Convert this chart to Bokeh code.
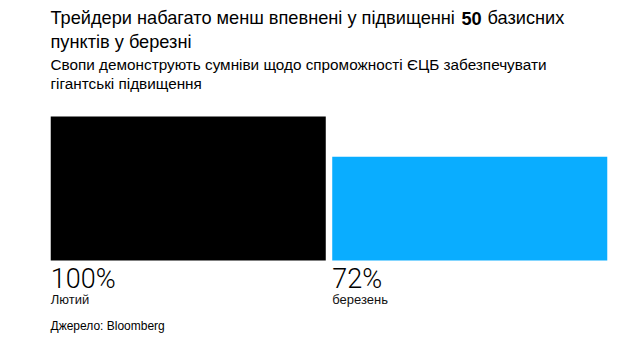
from bokeh.plotting import figure
from bokeh.models import ColumnDataSource, LabelSet, Label, Range1d
from bokeh.transform import dodge
from bokeh.embed import file_html
from bokeh.resources import INLINE
from bokeh.core.properties import value

months = ["Лютий", "березень"]
probabilities = [100, 72]
value_labels = ["100%", "72%"]
colors = ["#000000", "#0aadff"]

title_line1_a = "Трейдери набагато менш впевнені у підвищенні"
title_bold = "50"
title_line1_b = "базисних"
title_line2 = "пунктів у березні"
subtitle_lines = ["Свопи демонструють сумніви щодо спроможності ЄЦБ забезпечувати",
                  "гігантські підвищення"]
source_text = "Джерело: Bloomberg"

FONT = "Liberation Sans"
NUM_FONT = "Roboto Light, Lato Light, DejaVu Sans Light"
W, H = 640, 351

# layout of the plotting area inside the canvas (pixels)
PLOT_LEFT, PLOT_TOP, PLOT_BOTTOM = 47, 116, 260
SLOT_PX = 281.5                      # width of one category slot
VAL_PX = (PLOT_BOTTOM - PLOT_TOP) / 100.0

xpos = list(range(len(months)))
src = ColumnDataSource(dict(x=xpos, month=months, prob=probabilities,
                            label=value_labels, color=colors))

x0 = -0.5 - PLOT_LEFT / SLOT_PX
y0 = -(H - PLOT_BOTTOM) / VAL_PX
p = figure(width=W, height=H,
           x_range=Range1d(x0, x0 + W / SLOT_PX),
           y_range=Range1d(y0, y0 + H / VAL_PX),
           x_axis_type=None, y_axis_type=None,
           output_backend="svg", toolbar_location=None,
           min_border=0)
p.outline_line_color = None
p.grid.visible = False
p.background_fill_color = "white"
p.border_fill_color = "white"

p.vbar(x="x", top="prob", bottom=0, width=0.977, fill_color="color",
       line_color=None, source=src)

left_edge = dodge("x", -0.4885)
p.add_layout(LabelSet(x=left_edge, y=0, y_offset=-27, text="label", source=src,
                      text_font=value(NUM_FONT), text_font_size="27px",
                      text_color="#000000", text_baseline="alphabetic"))
p.add_layout(LabelSet(x=left_edge, y=0, y_offset=-43.5, text="month", source=src,
                      text_font=value(FONT), text_font_size="13px",
                      text_color="#111111", text_baseline="alphabetic"))

def scr_label(txt, x, baseline, size, bold=False):
    return Label(x=x, y=H - baseline, x_units="screen", y_units="screen", text=txt,
                 text_font=FONT, text_font_size=size,
                 text_font_style="bold" if bold else "normal",
                 text_color="#000000", text_baseline="alphabetic")

p.add_layout(scr_label(title_line1_a, 50, 17.5, "18.2px"))
p.add_layout(scr_label(title_bold, 461, 17.5, "18.2px", bold=True))
p.add_layout(scr_label(title_line1_b, 487, 17.5, "18.2px"))
p.add_layout(scr_label(title_line2, 50, 41.5, "18.2px"))
p.add_layout(scr_label(subtitle_lines[0], 50, 64, "15.3px"))
p.add_layout(scr_label(subtitle_lines[1], 50, 82.5, "15.3px"))
p.add_layout(scr_label(source_text, 50, 325.5, "12px"))

open("out.html", "w").write(file_html(p, INLINE))
